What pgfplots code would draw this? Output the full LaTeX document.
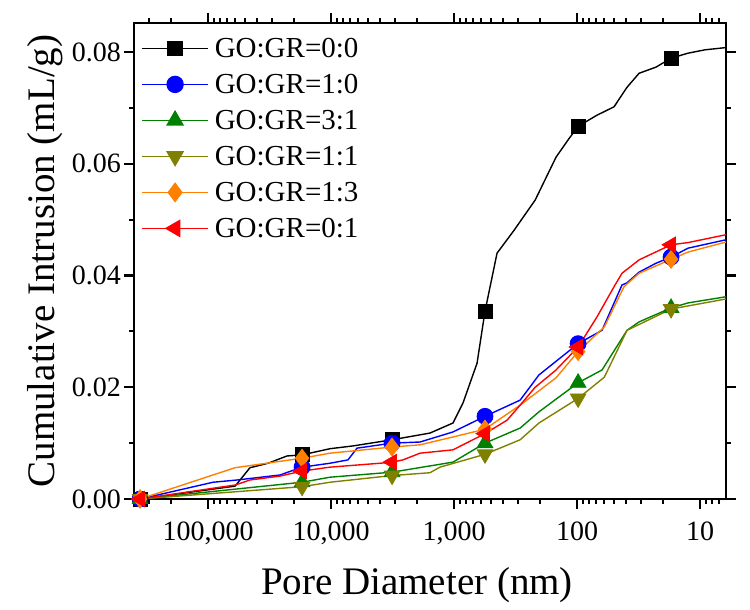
\documentclass[border=0pt]{standalone}
\usepackage{fontspec}
\setmainfont{Liberation Serif}
\usepackage{pgfplots}
\pgfplotsset{compat=1.18}
\definecolor{cblack}{RGB}{0,0,0}
\definecolor{cblue}{RGB}{0,0,255}
\definecolor{cgreen}{RGB}{0,128,0}
\definecolor{colive}{RGB}{128,128,0}
\definecolor{corange}{RGB}{255,128,0}
\definecolor{cred}{RGB}{255,0,0}
\begin{document}
\begin{tikzpicture}
\path[use as bounding box] (-67pt,-55.5pt) rectangle ++(375pt,305pt);
\begin{axis}[
  at={(0,0)}, anchor=south west,
  scale only axis, width=296pt, height=238pt,
  xmode=log, x dir=reverse,
  xmin=6.15, xmax=400000, ymin=0, ymax=0.0852,
  clip=false,
  scaled y ticks=false, scaled x ticks=false,
  xtick={10,100,1000,10000,100000},
  xticklabels={10,100,{1,000},{10,000},{100,000}},
  minor xtick={7,8,9,20,30,40,50,60,70,80,90,200,300,400,500,600,700,800,900,2000,3000,4000,5000,6000,7000,8000,9000,20000,30000,40000,50000,60000,70000,80000,90000,200000,300000},
  ytick={0,0.02,0.04,0.06,0.08},
  yticklabels={0.00,0.02,0.04,0.06,0.08},
  minor ytick={0.01,0.03,0.05,0.07},
  tick align=outside,
  major tick length=5pt, minor tick length=2.5pt,
  axis line style={line width=1.3pt},
  every tick/.style={black, line width=1.1pt},
  ticklabel style={font=\fontsize{14}{16}\selectfont},
  xticklabel style={yshift=-3pt},
  yticklabel style={xshift=2pt},
  xlabel={Pore Diameter (nm)},
  ylabel={Cumulative Intrusion (mL/g)},
  label style={font=\fontsize{19.5}{22}\selectfont},
  xlabel style={at={(axis description cs:0.478,-0.1996)}, anchor=base},
  ylabel style={at={(axis description cs:-0.1503,0.5)}, anchor=center},
  legend style={at={(axis description cs:0,1)}, anchor=north west, xshift=3.5pt, yshift=-6pt,
    draw=none, fill=none, inner sep=0pt,
    font=\fontsize{14.5}{16}\selectfont, row sep=5pt,
    nodes={inner sep=1pt, text height=10pt, text depth=1pt},
    /tikz/every odd column/.append style={column sep=2pt}},
  legend cell align=left,
  legend image code/.code={\draw[mark repeat=2,mark phase=2] plot coordinates {(0pt,0pt)(16.5pt,0pt)(33pt,0pt)};},
]
\addlegendimage{cblack, line width=0.7pt, mark=square*, mark size=3.5pt}
\addlegendentry{GO:GR=0:0}
\addlegendimage{cblue, line width=0.7pt, mark=*, mark size=4pt}
\addlegendentry{GO:GR=1:0}
\addlegendimage{cgreen, line width=0.7pt, mark=triangle*, mark size=4.5pt}
\addlegendentry{GO:GR=3:1}
\addlegendimage{colive, line width=0.7pt, mark=triangle*, mark size=4.5pt, mark options={rotate=180}}
\addlegendentry{GO:GR=1:1}
\addlegendimage{corange, line width=0.7pt, mark=diamond*, mark size=4.5pt}
\addlegendentry{GO:GR=1:3}
\addlegendimage{cred, line width=0.7pt, mark=triangle*, mark size=4.5pt, mark options={rotate=90}}
\addlegendentry{GO:GR=0:1}

% GO:GR=0:0
\addplot[cblack, line width=0.7pt, forget plot] coordinates {
(357000,0) (60300,0.0023) (45600,0.0056) (32500,0.0064) (22800,0.0077) (17200,0.0079)
(10200,0.0090) (6630,0.0095) (3190,0.0106) (1570,0.0118) (1020,0.0136) (845,0.0172)
(650,0.0243) (560,0.0336) (447,0.0440) (325,0.0481) (219,0.0535) (148,0.0612)
(118,0.0643) (98,0.0667) (68.8,0.0687) (50,0.0702) (39.2,0.0737) (31.3,0.0762)
(22.8,0.0773) (17.2,0.0789) (12.5,0.0798) (9.1,0.0804) (6.15,0.0808)};
\addplot[only marks, cblack, mark=square*, mark size=3.5pt, forget plot] coordinates {
(357000,0) (17200,0.0079) (3190,0.0106) (560,0.0336) (98,0.0667) (17.2,0.0789)};

% GO:GR=1:0
\addplot[cblue, line width=0.7pt, forget plot] coordinates {
(357000,0) (91000,0.0030) (58100,0.0034) (26000,0.0043) (17200,0.0057) (10200,0.0064)
(7280,0.0070) (6150,0.0091) (3190,0.0100) (1890,0.0102) (1020,0.0120) (560,0.0148)
(290,0.0177) (204,0.0222) (98,0.0278) (62.6,0.0302) (43.1,0.0383) (39.2,0.0387)
(31.3,0.0406) (22.8,0.0422) (17.2,0.0433) (12.5,0.0449) (6.15,0.0464)};
\addplot[only marks, cblue, mark=*, mark size=4pt, forget plot] coordinates {
(357000,0) (17200,0.0057) (3190,0.0100) (560,0.0148) (98,0.0278) (17.2,0.0433)};

% GO:GR=3:1
\addplot[cgreen, line width=0.7pt, forget plot] coordinates {
(357000,0) (17200,0.0030) (10200,0.0039) (3190,0.0048) (1020,0.0066) (560,0.0100)
(290,0.0127) (204,0.0156) (98,0.0208) (62.6,0.0231) (39.2,0.0302) (31.3,0.0317)
(17.2,0.0342) (12.5,0.0351) (6.15,0.0362)};
\addplot[only marks, cgreen, mark=triangle*, mark size=4.5pt, forget plot] coordinates {
(357000,0) (17200,0.0030) (3190,0.0048) (560,0.0100) (98,0.0208) (17.2,0.0342)};

% GO:GR=1:1
\addplot[colive, line width=0.7pt, forget plot] coordinates {
(357000,0) (17200,0.0022) (10200,0.0030) (3190,0.0042) (1570,0.0047) (1300,0.0057)
(560,0.0080) (290,0.0106) (204,0.0136) (98,0.0180) (60,0.0218) (39.2,0.0302)
(17.2,0.0340) (6.15,0.0358)};
\addplot[only marks, colive, mark=triangle*, mark size=4.5pt, mark options={rotate=180}, forget plot] coordinates {
(357000,0) (17200,0.0022) (3190,0.0042) (560,0.0080) (98,0.0180) (17.2,0.0340)};

% GO:GR=1:3
\addplot[corange, line width=0.7pt, forget plot] coordinates {
(357000,0) (60300,0.0056) (21500,0.0070) (17200,0.0073) (10200,0.0082) (3190,0.0093)
(1890,0.0097) (1020,0.0111) (560,0.0125) (290,0.0168) (148,0.0217) (98,0.0264)
(60,0.0308) (41.5,0.0380) (31.3,0.0404) (17.2,0.0429) (12.5,0.0442) (6.15,0.0460)};
\addplot[only marks, corange, mark=diamond*, mark size=4.5pt, forget plot] coordinates {
(357000,0) (17200,0.0073) (3190,0.0093) (560,0.0125) (98,0.0264) (17.2,0.0429)};

% GO:GR=0:1
\addplot[cred, line width=0.7pt, forget plot] coordinates {
(357000,0) (60300,0.0025) (45600,0.0034) (26000,0.0041) (17200,0.0050) (10200,0.0057)
(4000,0.0064) (3190,0.0066) (2600,0.0070) (1890,0.0082) (1020,0.0088) (560,0.0117)
(371,0.0141) (290,0.0168) (219,0.0200) (148,0.0231) (98,0.0272) (68.8,0.0326)
(50,0.0380) (43.1,0.0404) (31.3,0.0428) (17.2,0.0455) (12.5,0.0459) (6.15,0.0473)};
\addplot[only marks, cred, mark=triangle*, mark size=4.5pt, mark options={rotate=90}, forget plot] coordinates {
(357000,0) (17200,0.0050) (3190,0.0066) (560,0.0117) (98,0.0272) (17.2,0.0455)};
\end{axis}
\end{tikzpicture}
\end{document}
